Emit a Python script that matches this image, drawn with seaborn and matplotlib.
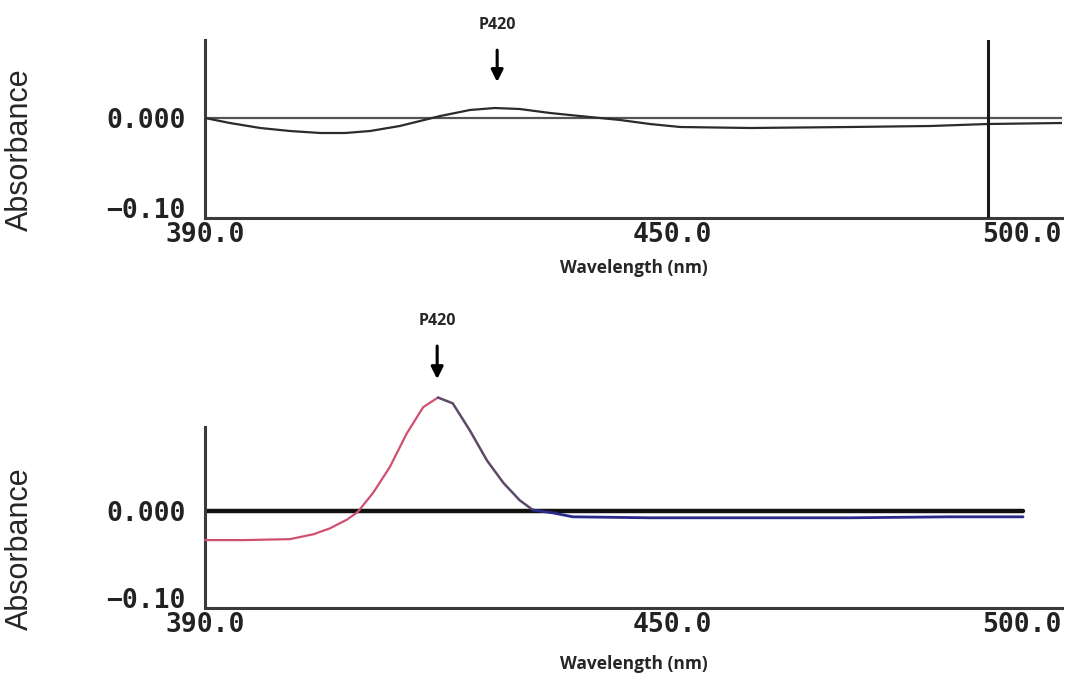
import matplotlib
matplotlib.use("Agg")
import matplotlib.pyplot as plt
import seaborn as sns
import pandas as pd

# ---------------- data ----------------
# Panel 1 (upper): difference spectrum, weak P420 band
top_wavelength = [390.0, 393.2, 397.1, 400.9, 404.8, 408.0, 411.2, 415.0, 417.6,
                  420.2, 424.0, 427.2, 430.4, 434.3, 438.1, 443.3, 447.1, 451.0,
                  460.0, 472.8, 483.1, 490.5, 500.0]
top_absorbance = [0.000, -0.005, -0.010, -0.013, -0.015, -0.015, -0.013, -0.008, -0.003,
                  0.002, 0.008, 0.010, 0.009, 0.005, 0.002, -0.002, -0.006, -0.009,
                  -0.010, -0.009, -0.008, -0.006, -0.005]

# Panel 2 (lower): difference spectrum, strong P420 band
# red segment (rising side)
bot_red_wavelength = [390.0, 395.0, 400.9, 403.9, 406.0, 408.2, 409.6, 411.6, 413.7,
                      415.9, 418.0, 419.9]
bot_red_absorbance = [-0.030, -0.030, -0.029, -0.024, -0.018, -0.009, -0.001, 0.019, 0.045,
                      0.080, 0.107, 0.117]
# darker segment (falling side)
bot_mid_wavelength = [419.9, 421.8, 424.0, 426.2, 428.3, 430.4, 432.1]
bot_mid_absorbance = [0.117, 0.111, 0.083, 0.052, 0.029, 0.011, 0.001]
# blue segment (tail)
bot_blue_wavelength = [432.1, 434.7, 437.2, 447.1, 460.0, 472.8, 485.6, 495.0]
bot_blue_absorbance = [0.001, -0.002, -0.006, -0.007, -0.007, -0.007, -0.006, -0.006]

x_ticks = [390.0, 450.0, 500.0]
x_ticklabels = ["390.0", "450.0", "500.0"]
y_ticks = [-0.10, 0.0]
y_ticklabels = ["\u22120.10", "0.000"]
cursor_wavelength = 490.5
peak_label = "P420"
top_peak_x = 427.5
bot_peak_x = 419.8

# ---------------- style ----------------
sns.set_style("white")
plt.rcParams["font.family"] = ["DejaVu Sans"]

fig = plt.figure(figsize=(10.71, 6.82), dpi=100)
W, H = 1071, 682


def px_axes(left, top, right, bottom):
    return fig.add_axes([left / W, 1 - bottom / H, (right - left) / W, (bottom - top) / H])


ax1 = px_axes(205, 40, 1062, 218)
ax2 = px_axes(205, 427, 1062, 608)

mono = dict(family="DejaVu Sans Mono", weight="bold", size=19)


def style_axis(ax, ylim, ylab_y, xlab_pad):
    ax.set_xlim(390, 500)
    ax.set_ylim(*ylim)
    for s in ["top", "right"]:
        ax.spines[s].set_visible(False)
    for s in ["left", "bottom"]:
        ax.spines[s].set_color("#3a3a3a")
        ax.spines[s].set_linewidth(2.2)
    ax.set_xticks(x_ticks)
    ax.set_xticks([400.0], minor=True)
    ax.set_xticklabels(x_ticklabels, fontdict=mono, color="#222222")
    labs = ax.get_xticklabels()
    labs[-1].set_horizontalalignment("right")
    ax.set_yticks(y_ticks)
    ax.set_yticklabels(y_ticklabels, fontdict=mono, color="#222222")
    ax.get_yticklabels()[0].set_verticalalignment("baseline")
    ax.tick_params(axis="x", which="both", direction="in", length=8, width=1.8,
                   color="#3a3a3a", pad=3)
    ax.tick_params(axis="y", length=0, pad=14)
    ax.set_xlabel("Wavelength (nm)", family="Open Sans", weight="bold", fontsize=12.5,
                  labelpad=xlab_pad)
    ax.set_ylabel("Absorbance", family="Liberation Sans", fontsize=22)
    ax.yaxis.set_label_coords(-0.199, ylab_y)
    ax.set_facecolor("white")


# ---- upper panel ----
style_axis(ax1, (-0.10, 0.078), 0.382, 8)
ax1.axhline(0.0, color="#555555", lw=1.6, zorder=2)
top_df = pd.DataFrame({"Wavelength": top_wavelength, "Absorbance": top_absorbance})
sns.lineplot(data=top_df, x="Wavelength", y="Absorbance", ax=ax1, color="#2b2b2b",
             lw=1.6, zorder=3)
ax1.axvline(cursor_wavelength, color="#1a1a1a", lw=2.2, zorder=4)
ax1.annotate(peak_label, xy=(top_peak_x, 0.036), xytext=(top_peak_x, 0.093),
             ha="center", va="center", family="Open Sans", weight="bold", fontsize=11.5,
             arrowprops=dict(arrowstyle="-|>", lw=2.2, color="black", mutation_scale=18,
                             shrinkA=10, shrinkB=0),
             annotation_clip=False)

# ---- lower panel ----
style_axis(ax2, (-0.10, 0.0866), 0.326, 12)
ax2.plot([390.0, 495.0], [0.0, 0.0], color="#111111", lw=3.2, zorder=2)
red_df = pd.DataFrame({"Wavelength": bot_red_wavelength, "Absorbance": bot_red_absorbance})
mid_df = pd.DataFrame({"Wavelength": bot_mid_wavelength, "Absorbance": bot_mid_absorbance})
blue_df = pd.DataFrame({"Wavelength": bot_blue_wavelength, "Absorbance": bot_blue_absorbance})
for df, col, lw in [(red_df, "#d05070", 1.6), (mid_df, "#5c4a66", 1.8), (blue_df, "#2a2a8a", 2.0)]:
    sns.lineplot(data=df, x="Wavelength", y="Absorbance", ax=ax2, color=col, lw=lw,
                 zorder=3, clip_on=False)
ax2.annotate(peak_label, xy=(bot_peak_x, 0.136), xytext=(bot_peak_x, 0.196),
             ha="center", va="center", family="Open Sans", weight="bold", fontsize=11.5,
             arrowprops=dict(arrowstyle="-|>", lw=2.2, color="black", mutation_scale=18,
                             shrinkA=10, shrinkB=0),
             annotation_clip=False)

fig.savefig("out.png", dpi=100, facecolor="white")
